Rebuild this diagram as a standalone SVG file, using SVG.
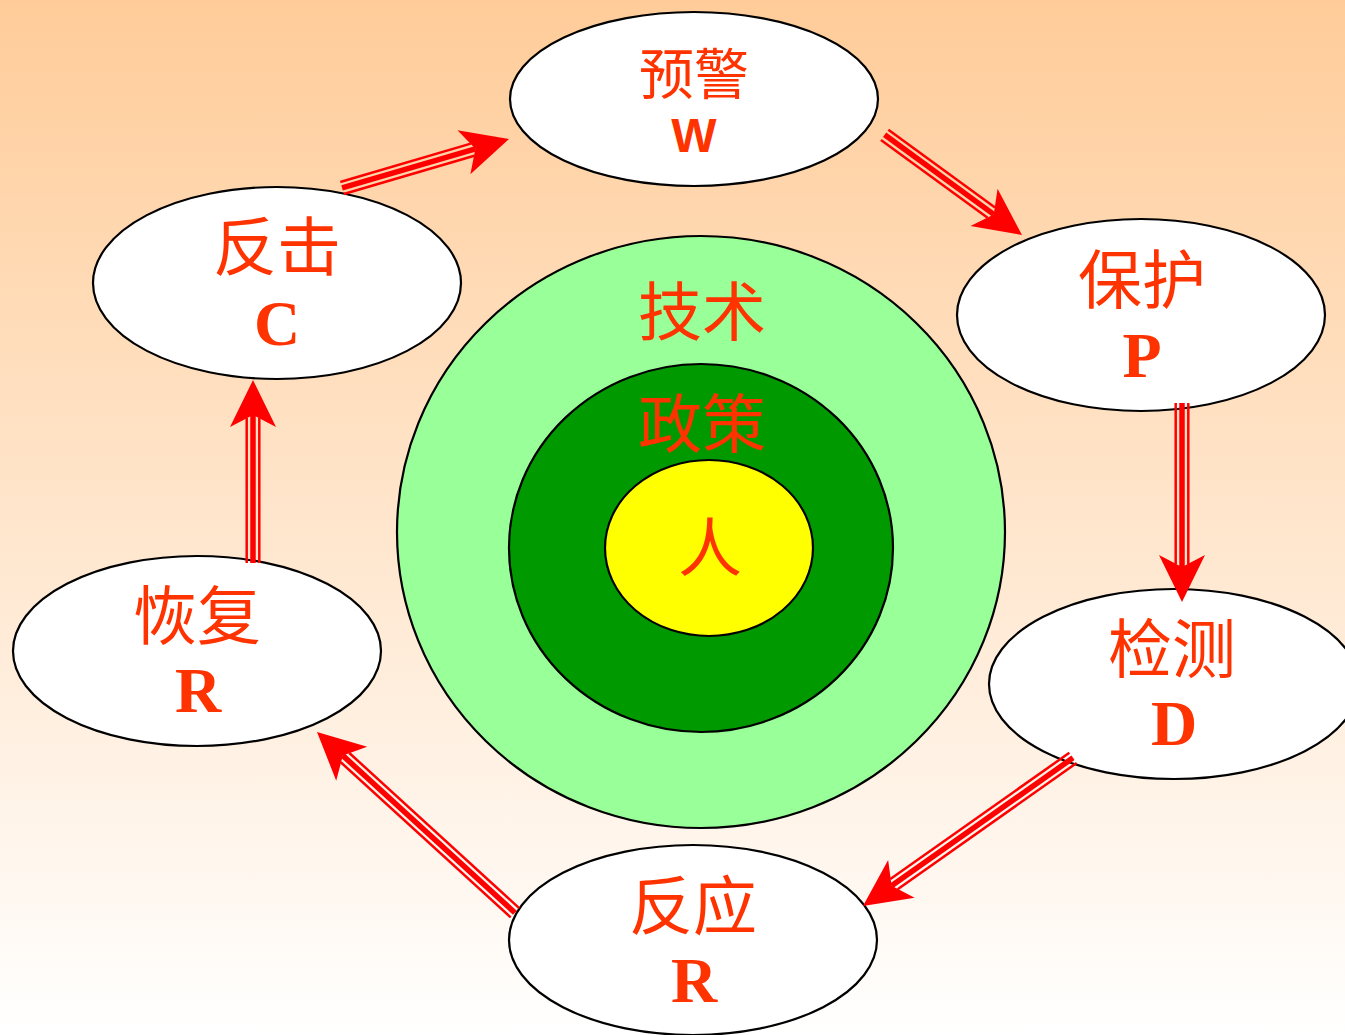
<svg xmlns="http://www.w3.org/2000/svg" width="1345" height="1035" viewBox="0 0 1345 1035">
<defs>
<linearGradient id="bg" x1="0" y1="0" x2="0" y2="1">
<stop offset="0" stop-color="#FFCC99"/>
<stop offset="1" stop-color="#FFFFFF"/>
</linearGradient>
<g id="head"><polygon points="0,0 -47,-23 -35,0 -47,23" fill="#FF0000"/></g>
</defs>
<style>
.node ellipse{fill:#FFFFFF;stroke:#000;stroke-width:2.2}
.ring{stroke:#000;stroke-width:2.2}
.cn{font-family:"Noto Sans CJK SC","Noto Sans",sans-serif;font-size:64px;fill:#FF3300;text-anchor:middle}
.lt{font-family:"Liberation Serif",serif;font-weight:bold;font-size:64px;fill:#FF3300;text-anchor:middle}
.ls{font-family:"Liberation Sans",sans-serif;font-weight:bold;font-size:48px;fill:#FF3300;text-anchor:middle}
.thin{stroke:#FF0000;stroke-width:2.5;fill:none}
.thick{stroke:#FF0000;stroke-width:5.5;fill:none}
</style>
<rect x="0" y="0" width="1345" height="1035" fill="url(#bg)"/>

<g id="core">
<ellipse class="ring" cx="701" cy="532" rx="304" ry="296" fill="#99FF99"/>
<ellipse class="ring" cx="701" cy="548" rx="192" ry="184" fill="#009900"/>
<ellipse class="ring" cx="709" cy="548" rx="104" ry="88" fill="#FFFF00"/>
<text class="cn" x="702" y="335">技术</text>
<text class="cn" x="702" y="447">政策</text>
<text class="cn" x="710" y="571">人</text>
</g>

<g id="node-W" class="node">
<ellipse cx="694" cy="99" rx="184" ry="87"/>
<text class="cn" x="694" y="94" style="font-size:55px">预警</text>
<text class="ls" x="694" y="152">W</text>
</g>
<g id="node-P" class="node">
<ellipse cx="1141" cy="315" rx="184" ry="96"/>
<text class="cn" x="1142" y="303">保护</text>
<text class="lt" x="1142" y="377">P</text>
</g>
<g id="node-D" class="node">
<ellipse cx="1174" cy="684" rx="185" ry="95"/>
<text class="cn" x="1172" y="672">检测</text>
<text class="lt" x="1174" y="745">D</text>
</g>
<g id="node-R1" class="node">
<ellipse cx="693" cy="940" rx="184" ry="95"/>
<text class="cn" x="693" y="929">反应</text>
<text class="lt" x="694" y="1002">R</text>
</g>
<g id="node-R2" class="node">
<ellipse cx="197" cy="651" rx="184" ry="95"/>
<text class="cn" x="197" y="639">恢复</text>
<text class="lt" x="198" y="712">R</text>
</g>
<g id="node-C" class="node">
<ellipse cx="277" cy="283" rx="184" ry="96"/>
<text class="cn" x="277" y="270">反击</text>
<text class="lt" x="277" y="345">C</text>
</g>

<g id="connectors">
<g transform="translate(509,139) rotate(-16.35)">
<line class="thin" x1="-174" y1="-6.3" x2="-38" y2="-6.3"/><line class="thick" x1="-174" y1="0" x2="-35" y2="0"/><line class="thin" x1="-174" y1="6.3" x2="-38" y2="6.3"/><use href="#head"/>
</g>
<g transform="translate(1022,235) rotate(36.1)">
<line class="thin" x1="-170" y1="-6.3" x2="-38" y2="-6.3"/><line class="thick" x1="-170" y1="0" x2="-35" y2="0"/><line class="thin" x1="-170" y1="6.3" x2="-38" y2="6.3"/><use href="#head"/>
</g>
<g transform="translate(1182,602) rotate(90)">
<line class="thin" x1="-199" y1="-6.3" x2="-38" y2="-6.3"/><line class="thick" x1="-199" y1="0" x2="-35" y2="0"/><line class="thin" x1="-199" y1="6.3" x2="-38" y2="6.3"/><use href="#head"/>
</g>
<g transform="translate(863,906) rotate(144.8)">
<line class="thin" x1="-257" y1="-6.3" x2="-38" y2="-6.3"/><line class="thick" x1="-257" y1="0" x2="-35" y2="0"/><line class="thin" x1="-257" y1="6.3" x2="-38" y2="6.3"/><use href="#head"/>
</g>
<g transform="translate(317,732) rotate(-137.6)">
<line class="thin" x1="-268" y1="-6.3" x2="-38" y2="-6.3"/><line class="thick" x1="-268" y1="0" x2="-35" y2="0"/><line class="thin" x1="-268" y1="6.3" x2="-38" y2="6.3"/><use href="#head"/>
</g>
<g transform="translate(253,380) rotate(-90)">
<line class="thin" x1="-183" y1="-6.3" x2="-38" y2="-6.3"/><line class="thick" x1="-183" y1="0" x2="-35" y2="0"/><line class="thin" x1="-183" y1="6.3" x2="-38" y2="6.3"/><use href="#head"/>
</g>
</g>
</svg>
